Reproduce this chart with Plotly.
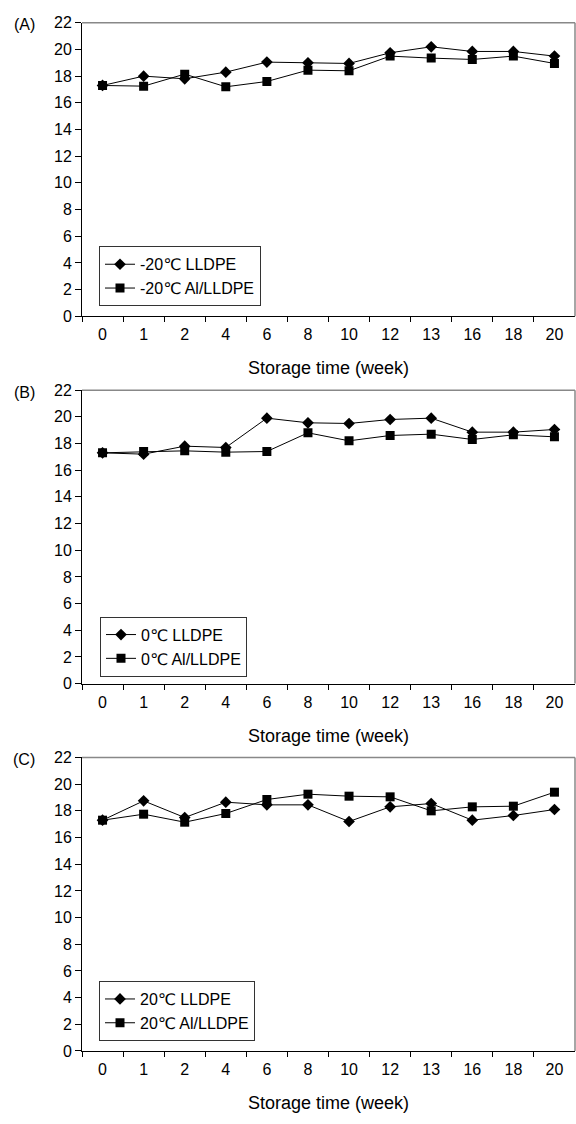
import plotly.graph_objects as go

weeks = ["0", "1", "2", "4", "6", "8", "10", "12", "13", "16", "18", "20"]

a_lldpe = [17.3, 18.0, 17.8, 18.3, 19.05, 19.0, 18.95, 19.75, 20.2, 19.85, 19.85, 19.5]
a_al = [17.3, 17.25, 18.15, 17.2, 17.6, 18.45, 18.4, 19.5, 19.35, 19.25, 19.5, 18.95]

b_lldpe = [17.3, 17.2, 17.8, 17.7, 19.9, 19.55, 19.5, 19.8, 19.9, 18.85, 18.85, 19.05]
b_al = [17.3, 17.4, 17.45, 17.35, 17.4, 18.8, 18.2, 18.6, 18.7, 18.3, 18.65, 18.5]

c_lldpe = [17.3, 18.75, 17.5, 18.65, 18.45, 18.45, 17.2, 18.3, 18.55, 17.3, 17.65, 18.1]
c_al = [17.3, 17.75, 17.15, 17.8, 18.85, 19.25, 19.1, 19.05, 18.0, 18.3, 18.35, 19.4]

panels = [
    ("(A)", "-20℃", a_lldpe, a_al),
    ("(B)", "0℃", b_lldpe, b_al),
    ("(C)", "20℃", c_lldpe, c_al),
]

W, H = 576, 1124
FONT = "Liberation Sans, Arial, DejaVu Sans, sans-serif"
left_px, right_px = 82, 575
tops = [15, 388, 761]
bottoms = [313, 686, 1059]
legend_tops = [242, 618, 988]
legend_left = [99, 100, 99]

fig = go.Figure()
annotations = []
shapes = []
layout = {}

for i, (lab, temp, lldpe, al) in enumerate(panels):
    n = "" if i == 0 else str(i + 1)
    xa, ya = "x" + n, "y" + n
    leg = "legend" + n
    fig.add_trace(go.Scatter(
        x=weeks, y=lldpe, mode="lines+markers", name=f"{temp} LLDPE",
        xaxis=xa, yaxis=ya, legend=leg,
        line=dict(color="black", width=1),
        marker=dict(symbol="diamond", size=9, color="black"),
    ))
    fig.add_trace(go.Scatter(
        x=weeks, y=al, mode="lines+markers", name=f"{temp} Al/LLDPE",
        xaxis=xa, yaxis=ya, legend=leg,
        line=dict(color="black", width=1),
        marker=dict(symbol="square", size=9, color="black"),
    ))
    ydom = [1 - bottoms[i] / H, 1 - tops[i] / H]
    xdom = [left_px / W, right_px / W]
    layout["xaxis" + n] = dict(
        domain=xdom, anchor=ya, type="category", range=[-0.5, 11.5],
        tickson="boundaries", ticks="outside", ticklen=5, tickcolor="black",
        ticklabelstandoff=4,
        showline=True, linecolor="black", linewidth=1, showgrid=False,
        zeroline=False, tickfont=dict(size=16, color="black", family=FONT),
    )
    layout["yaxis" + n] = dict(
        domain=ydom, anchor=xa, range=[0, 22], tick0=0, dtick=2,
        ticks="outside", ticklen=6, tickcolor="black",
        showline=True, linecolor="black", linewidth=1, showgrid=False,
        zeroline=False, tickfont=dict(size=16, color="black", family=FONT),
    )
    layout[leg] = dict(
        x=legend_left[i] / W, y=1 - legend_tops[i] / H,
        xanchor="left", yanchor="top", bgcolor="white",
        bordercolor="#333333", borderwidth=1,
        font=dict(size=16, color="black", family=FONT),
        itemwidth=30, tracegroupgap=0,
    )
    shapes.append(dict(type="line", xref=xa + " domain", yref=ya + " domain",
                       x0=0, x1=1, y0=1, y1=1, line=dict(color="#888888", width=1.5)))
    shapes.append(dict(type="line", xref=xa + " domain", yref=ya + " domain",
                       x0=1, x1=1, y0=0, y1=1, line=dict(color="#888888", width=1.5)))
    annotations.append(dict(
        text=lab, xref="paper", yref="paper", x=24 / W, y=1 - (tops[i] + 2) / H,
        xanchor="center", yanchor="middle", showarrow=False,
        font=dict(size=16, color="black", family=FONT),
    ))
    annotations.append(dict(
        text="Storage time (week)", xref="paper", yref="paper",
        x=(left_px + right_px) / 2 / W, y=1 - (bottoms[i] + 53) / H,
        xanchor="center", yanchor="middle", showarrow=False,
        font=dict(size=18, color="black", family=FONT),
    ))

fig.update_layout(
    width=W, height=H, margin=dict(l=0, r=0, t=0, b=0),
    paper_bgcolor="white", plot_bgcolor="white",
    font=dict(family=FONT, color="black"),
    annotations=annotations, shapes=shapes, showlegend=True,
    **layout,
)

fig.write_html(
    "out.html",
    config={"displayModeBar": False},
    post_script="document.body.style.margin='0';document.body.style.overflow='hidden';",
)
